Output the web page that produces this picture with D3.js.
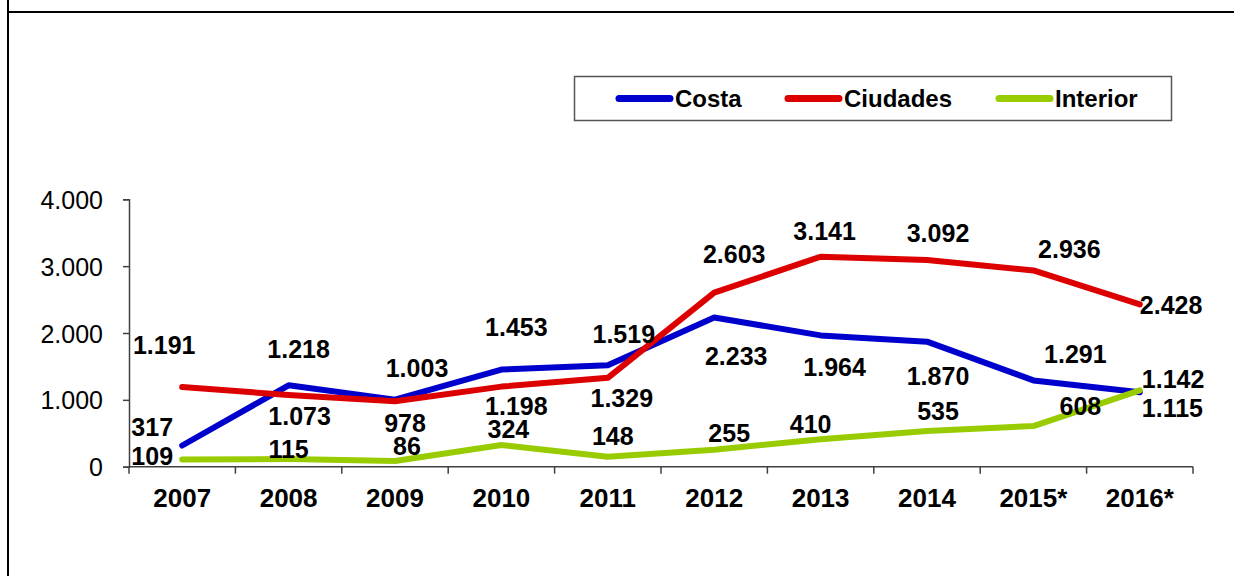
<!DOCTYPE html>
<html>
<head>
<meta charset="utf-8">
<script src="https://cdn.jsdelivr.net/npm/d3@7"></script>
<style>
  html, body { margin: 0; padding: 0; background: #fff; }
  svg { display: block; }
</style>
</head>
<body>
<svg id="chart" width="1234" height="576"></svg>
<script>
// ---- Data ----
const years = ["2007", "2008", "2009", "2010", "2011", "2012", "2013", "2014", "2015*", "2016*"];
const costa = [317, 1218, 1003, 1453, 1519, 2233, 1964, 1870, 1291, 1115];
const ciudades = [1191, 1073, 978, 1198, 1329, 2603, 3141, 3092, 2936, 2428];
const interior = [109, 115, 86, 324, 148, 255, 410, 535, 608, 1142];
const seriesNames = ["Costa", "Ciudades", "Interior"];
const yTicks = [0, 1000, 2000, 3000, 4000];

// ---- Layout / style (kept separate from data) ----
const colors = ["#0000CC", "#DD0000", "#99CC00"];
// label offsets [dx, dy(baseline), anchor] relative to each point
const costaLabelPos = [[-30,-10,"middle"],[10,-27,"middle"],[22,-23,"middle"],[15,-34,"middle"],[16,-22,"middle"],[22,48,"middle"],[14,41,"middle"],[11,43,"middle"],[42,-17,"middle"],[2,25,"start"]];
const ciudadesLabelPos = [[-18,-33,"middle"],[11,30,"middle"],[10,31,"middle"],[15,28,"middle"],[14,29,"middle"],[20,-30,"middle"],[4,-17,"middle"],[11,-18,"middle"],[36,-12,"middle"],[0,10,"start"]];
const interiorLabelPos = [[-30,6,"middle"],[0,-1,"middle"],[12,-6,"middle"],[7,-7,"middle"],[5,-12,"middle"],[15,-8,"middle"],[-10,-6,"middle"],[11,-11,"middle"],[47,-11,"middle"],[2,-2,"start"]];

const svg = d3.select("#chart");
const font = "'Liberation Sans', Arial, sans-serif";

// Frame
svg.append("line").attr("x1", 8).attr("x2", 8).attr("y1", 0).attr("y2", 576)
  .attr("stroke", "#000").attr("stroke-width", 2);
svg.append("line").attr("x1", 8).attr("x2", 1234).attr("y1", 12).attr("y2", 12)
  .attr("stroke", "#000").attr("stroke-width", 2);

const x = d3.scaleBand().domain(years).range([129, 1193]).padding(0);
const y = d3.scaleLinear().domain([0, 4000]).range([466.7, 199.3]);
const cx = d => x(d) + x.bandwidth() / 2;

const fmt = v => d3.format(",")(v).replace(/,/g, ".");

// Y axis
const yAxis = svg.append("g").attr("transform", "translate(129,0)")
  .call(d3.axisLeft(y).tickValues(yTicks).tickSize(6).tickPadding(20).tickFormat(fmt));
yAxis.select(".domain").attr("stroke", "#404040").attr("stroke-width", 1.5);
yAxis.selectAll(".tick line").attr("stroke", "#404040").attr("stroke-width", 1.5);
yAxis.selectAll(".tick text").attr("font-family", font).attr("font-size", 25)
  .attr("fill", "#000").attr("dy", "0.36em");

// X axis
const xg = svg.append("g");
xg.append("line").attr("x1", x.range()[0]).attr("x2", x.range()[1])
  .attr("y1", y(0)).attr("y2", y(0)).attr("stroke", "#404040").attr("stroke-width", 1.5);
const boundaries = years.map(d => x(d)).concat([x.range()[1]]);
xg.selectAll("line.xt").data(boundaries).enter().append("line").attr("class", "xt")
  .attr("x1", d => d).attr("x2", d => d).attr("y1", y(0)).attr("y2", y(0) + 7)
  .attr("stroke", "#404040").attr("stroke-width", 1.5);
xg.selectAll("text").data(years).enter().append("text")
  .attr("x", d => cx(d)).attr("y", 507).attr("text-anchor", "middle")
  .attr("font-family", font).attr("font-size", 26).attr("font-weight", "bold")
  .attr("fill", "#000").text(d => d);

// Lines
const seriesData = [costa, ciudades, interior];
const labelPos = [costaLabelPos, ciudadesLabelPos, interiorLabelPos];
const line = d3.line().x((d, i) => cx(years[i])).y(d => y(d));
seriesData.forEach((vals, s) => {
  svg.append("path").datum(vals).attr("d", line).attr("fill", "none")
    .attr("stroke", colors[s]).attr("stroke-width", 6)
    .attr("stroke-linejoin", "round").attr("stroke-linecap", "round");
});
// Labels
seriesData.forEach((vals, s) => {
  svg.append("g").selectAll("text").data(vals).enter().append("text")
    .attr("x", (d, i) => cx(years[i]) + labelPos[s][i][0])
    .attr("y", (d, i) => y(d) + labelPos[s][i][1])
    .attr("text-anchor", (d, i) => labelPos[s][i][2])
    .attr("font-family", font).attr("font-size", 25).attr("font-weight", "bold")
    .attr("fill", "#000").text(d => fmt(d));
});

// Legend
const lg = svg.append("g");
lg.append("rect").attr("x", 574.5).attr("y", 76.5).attr("width", 597).attr("height", 44)
  .attr("fill", "#fff").attr("stroke", "#555").attr("stroke-width", 1.5);
const legendX = [616, 785, 996];
seriesNames.forEach((n, i) => {
  lg.append("line").attr("x1", legendX[i] + 3).attr("x2", legendX[i] + 54)
    .attr("y1", 98.5).attr("y2", 98.5).attr("stroke", colors[i])
    .attr("stroke-width", 7).attr("stroke-linecap", "round");
  lg.append("text").attr("x", legendX[i] + 59).attr("y", 107)
    .attr("font-family", font).attr("font-size", 24).attr("font-weight", "bold")
    .attr("fill", "#000").text(n);
});
</script>
</body>
</html>
